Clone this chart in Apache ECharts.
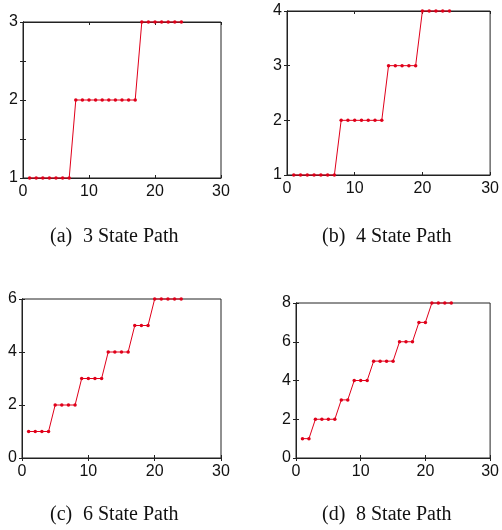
<!DOCTYPE html>
<html>
<head>
<meta charset="utf-8">
<script src="https://cdn.jsdelivr.net/npm/echarts@6/dist/echarts.min.js"></script>
<style>
  html, body { margin: 0; padding: 0; background: #fff; }
  #main { width: 502px; height: 530px; }
</style>
</head>
<body>
<div id="main"></div>
<script>
// time steps shared by all four panels
var steps = [1,2,3,4,5,6,7,8,9,10,11,12,13,14,15,16,17,18,19,20,21,22,23,24];

// state sequences
var path3 = [1,1,1,1,1,1,1,2,2,2,2,2,2,2,2,2,2,3,3,3,3,3,3,3];
var path4 = [1,1,1,1,1,1,1,2,2,2,2,2,2,2,3,3,3,3,3,4,4,4,4,4];
var path6 = [1,1,1,1,2,2,2,2,3,3,3,3,4,4,4,4,5,5,5,6,6,6,6,6];
var path8 = [1,1,2,2,2,2,3,3,4,4,4,5,5,5,5,6,6,6,7,7,8,8,8,8];

var xRange = [0, 30];
var xStep = 10;

var captionTags = ['(a)', '(b)', '(c)', '(d)'];
var captionTexts = ['3 State Path', '4 State Path', '6 State Path', '8 State Path'];

var lineColor = '#e0001a';
var frameColor = '#222';

var panels = [
  { data: path3, y: [1, 3], yStep: 0.5, grid: { left: 23, top: 22, width: 198, height: 156 } },
  { data: path4, y: [1, 4], yStep: 1,   grid: { left: 287, top: 11, width: 206, height: 164 } },
  { data: path6, y: [0, 6], yStep: 2,   grid: { left: 22, top: 299, width: 199, height: 159 } },
  { data: path8, y: [0, 8], yStep: 2,   grid: { left: 296, top: 303, width: 195, height: 155 } }
];

var captionPos = [
  { x: 50, y: 238 }, { x: 322, y: 238 },
  { x: 50, y: 516 }, { x: 322, y: 516 }
];

var grids = [], xAxes = [], yAxes = [], series = [], graphics = [];

function intOnly(v) {
  return Math.abs(v - Math.round(v)) < 1e-9 ? String(Math.round(v)) : '';
}

panels.forEach(function(p, i) {
  var g = p.grid;
  grids.push({
    left: g.left, top: g.top, width: g.width, height: g.height,
    show: true, borderColor: frameColor, borderWidth: 1, backgroundColor: '#fff'
  });
  [0, 1].forEach(function(side) {
    xAxes.push({
      type: 'value', gridIndex: i, position: side ? 'top' : 'bottom',
      min: xRange[0], max: xRange[1], interval: xStep,
      axisLine: { show: true, lineStyle: { color: frameColor, width: 1 } },
      axisTick: { show: true, inside: true, length: 3, lineStyle: { color: frameColor } },
      axisLabel: { show: !side, margin: 6, color: '#111', fontFamily: 'Liberation Sans, Arial', fontSize: 16 },
      splitLine: { show: false }
    });
    yAxes.push({
      type: 'value', gridIndex: i, position: side ? 'right' : 'left',
      min: p.y[0], max: p.y[1], interval: p.yStep,
      axisLine: { show: true, lineStyle: { color: frameColor, width: 1 } },
      axisTick: { show: true, inside: true, length: 3, lineStyle: { color: frameColor } },
      axisLabel: { show: !side, margin: 5, formatter: intOnly, color: '#111', fontFamily: 'Liberation Sans, Arial', fontSize: 16 },
      splitLine: { show: false }
    });
  });
  series.push({
    type: 'line',
    xAxisIndex: 2 * i, yAxisIndex: 2 * i,
    data: steps.map(function(s, k) { return [s, p.data[k]]; }),
    symbol: 'circle', symbolSize: 3.5, showSymbol: true, clip: false,
    lineStyle: { color: lineColor, width: 1 },
    itemStyle: { color: lineColor },
    animation: false
  });
  graphics.push({
    type: 'text', left: captionPos[i].x, top: captionPos[i].y - 11,
    style: { text: captionTags[i], font: '20px "Liberation Serif", "Times New Roman", serif', fill: '#111' }
  });
  graphics.push({
    type: 'text', left: captionPos[i].x + 33 + (i % 2), top: captionPos[i].y - 11,
    style: { text: captionTexts[i], font: '20px "Liberation Serif", "Times New Roman", serif', fill: '#111' }
  });
});

var myChart = echarts.init(document.getElementById('main'));
myChart.setOption({
  animation: false,
  backgroundColor: '#fff',
  grid: grids,
  xAxis: xAxes,
  yAxis: yAxes,
  series: series,
  graphic: graphics
});
</script>
</body>
</html>
